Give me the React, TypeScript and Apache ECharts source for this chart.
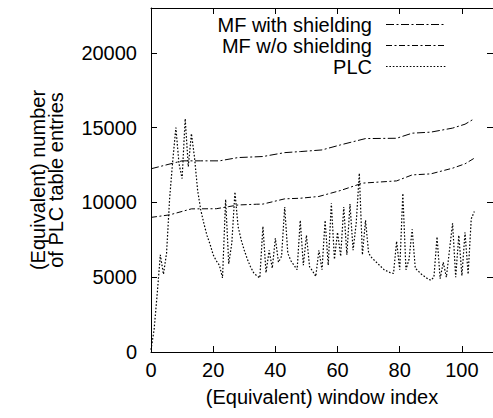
import React, { useEffect, useRef } from "react";
import * as echarts from "echarts";

const FONT = "Liberation Sans";

const seriesNames = ["MF with shielding", "MF w/o shielding", "PLC"];

// MF with shielding: window index / entries
const mfWithX = [0, 7, 10, 16, 22, 28, 36, 43, 48, 55, 61, 69, 79, 84, 90, 97, 101, 104];
const mfWithY = [12250, 12620, 12780, 12780, 12780, 13000, 13070, 13330, 13400, 13510, 13850, 14270, 14290, 14630, 14700, 14970, 15230, 15600];

// MF w/o shielding
const mfWoX = [0, 6, 13, 21, 25, 28, 34, 36, 43, 48, 54, 61, 68, 79, 84, 90, 97, 101, 104];
const mfWoY = [9000, 9170, 9570, 9580, 9720, 9830, 9880, 9890, 10240, 10280, 10400, 10800, 11290, 11440, 11840, 11910, 12290, 12580, 12960];

// PLC, one value per window index 0..104
const plcValues = [
  150, 1500, 3900, 6500, 5200, 6600, 10300, 12800, 15000, 12600,
  11600, 15600, 12400, 14600, 13000, 10800, 9500, 8600, 7800, 7200,
  6500, 6100, 5800, 4950, 10200, 5900, 7300, 10700, 8400, 7500,
  6800, 6200, 5700, 5300, 5100, 4950, 8400, 5300, 6800, 5600,
  7600, 6000, 6400, 9700, 6600, 6100, 5800, 5500, 8800, 5800,
  7800, 5700, 5400, 5050, 6800, 5500, 8800, 5800, 9950, 6200,
  8000, 6400, 9700, 6500, 9900, 6800, 8600, 11950, 6500, 8800,
  6600, 6300, 6100, 5900, 5700, 5500, 5400, 5300, 5250, 7400,
  5500, 10600, 5500, 6200, 8200, 5600, 5400, 5200, 5050, 4900,
  4800, 5000, 7700, 4900, 6000, 5000, 6800, 8600, 5000, 7800,
  5100, 8000, 5200, 8900, 9400,
];

const xMin = 0, xMax = 110, xInterval = 20;
const yMin = 0, yMax = 23000, yInterval = 5000;

const dashes: number[][] = [
  [8, 2.5, 2, 2.5],
  [6, 2.5, 2, 2.5],
  [1.6, 1.8],
];

export default function App() {
  const ref = useRef<HTMLDivElement>(null);
  useEffect(() => {
    document.body.style.margin = "0";
    const chart = echarts.init(ref.current!, null, { renderer: "svg" });
    const axisCommon = {
      type: "value" as const,
      axisLine: { show: true, onZero: false, lineStyle: { color: "#000", width: 1 } },
      axisTick: { show: true, inside: true, length: 6, lineStyle: { color: "#000", width: 1 } },
      splitLine: { show: false },
    };
    const labelStyle = {
      color: "#000",
      fontSize: 20,
      fontFamily: FONT,
      showMaxLabel: false,
      formatter: (v: number) => String(v),
    };
    const lineData = [
      mfWithX.map((x, i) => [x, mfWithY[i]]),
      mfWoX.map((x, i) => [x, mfWoY[i]]),
      plcValues.map((v, i) => [i, v]),
    ];
    const legendGraphics: any[] = [];
    seriesNames.forEach((name, i) => {
      const y = 24.5 + 21 * i;
      legendGraphics.push({
        type: "text",
        x: 372,
        y,
        style: { text: name, font: `20px "${FONT}"`, fill: "#000", textAlign: "right", textVerticalAlign: "middle" },
      });
      legendGraphics.push({
        type: "line",
        shape: { x1: 386, y1: y, x2: 446, y2: y },
        style: { stroke: "#000", lineWidth: 1, lineDash: dashes[i] },
      });
    });
    chart.setOption({
      animation: false,
      backgroundColor: "#fff",
      grid: { left: 151, top: 8, width: 343, height: 344 },
      xAxis: [
        { ...axisCommon, min: xMin, max: xMax, interval: xInterval, position: "bottom",
          axisLabel: { ...labelStyle, margin: 8 } },
        { ...axisCommon, min: xMin, max: xMax, interval: xInterval, position: "top",
          axisLabel: { show: false } },
      ],
      yAxis: [
        { ...axisCommon, min: yMin, max: yMax, interval: yInterval, position: "left",
          axisLabel: { ...labelStyle, margin: 14 } },
        { ...axisCommon, min: yMin, max: yMax, interval: yInterval, position: "right",
          axisLabel: { show: false } },
      ],
      series: lineData.map((data, i) => ({
        name: seriesNames[i],
        type: "line",
        xAxisIndex: 0,
        yAxisIndex: 0,
        data,
        symbol: "none",
        silent: true,
        lineStyle: { color: "#000", width: i === 2 ? 1.2 : 1, type: dashes[i] },
      })),
      graphic: [
        ...legendGraphics,
        {
          type: "text",
          x: 47,
          y: 180,
          rotation: Math.PI / 2,
          style: {
            text: "(Equivalent) number\nof PLC table entries",
            font: `20px "${FONT}"`,
            lineHeight: 18,
            fill: "#000",
            textAlign: "center",
            textVerticalAlign: "middle",
          },
        },
        {
          type: "text",
          x: 322,
          y: 397,
          style: {
            text: "(Equivalent) window index",
            font: `20px "${FONT}"`,
            fill: "#000",
            textAlign: "center",
            textVerticalAlign: "middle",
          },
        },
      ],
    });
    return () => chart.dispose();
  }, []);
  return <div ref={ref} style={{ width: 493, height: 418 }} />;
}
